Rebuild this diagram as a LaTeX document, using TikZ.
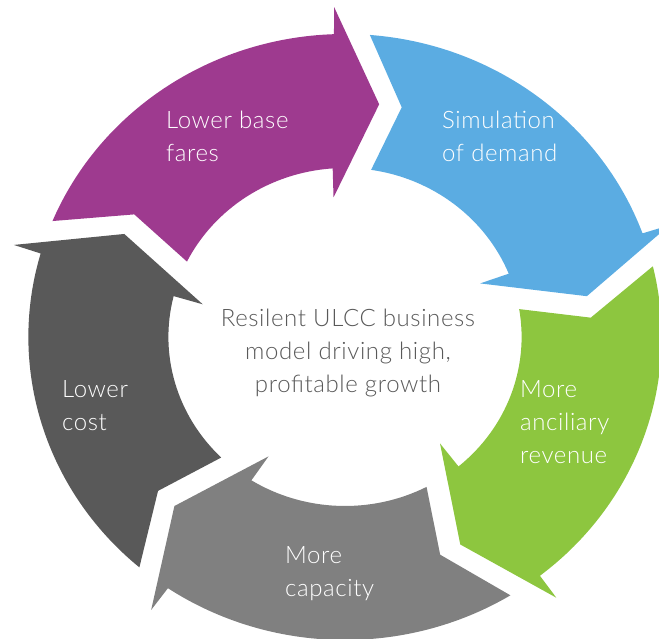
\documentclass[tikz,border=0pt]{standalone}
\usepackage{fontspec}
\setmainfont{Lato Light}[LetterSpace=2.5]

\definecolor{farescol}{RGB}{158,58,143}
\definecolor{demandcol}{RGB}{91,172,226}
\definecolor{revenuecol}{RGB}{141,198,63}
\definecolor{capacitycol}{RGB}{128,128,128}
\definecolor{costcol}{RGB}{89,89,89}
\definecolor{hubcol}{RGB}{89,89,89}

\tikzset{
  arrowtext/.style={text=white, align=left, inner sep=0pt, font=\fontsize{24}{33}\selectfont},
  hubtext/.style={text=hubcol, align=center, inner sep=0pt, font=\fontsize{24}{33}\selectfont}
}

\begin{document}
\begin{tikzpicture}[x=1pt,y=1pt]
  \useasboundingbox (0,0) rectangle (659,639);
  \clip (0,0) rectangle (659,639);
  % five block arrows round the ring, clockwise
  \begin{scope}[shift={(345,302)},xscale=1.045]
    \foreach \h/\c in {93/farescol,21/demandcol,-51/revenuecol,-123/capacitycol,165/costcol}
      \fill[\c,rotate=\h] (64.5:303) arc[start angle=64.5,end angle=-1,radius=303]
        -- (-1.2:330) -- (-11:235) -- (1.5:140) -- (1:169)
        arc[start angle=1,end angle=60.5,radius=169] -- (55.7:236) -- cycle;
  \end{scope}
  \node[arrowtext,anchor=north west] (fares) at (166,528) {Lower base\\fares};
  \node[arrowtext,anchor=north west] (demand) at (442,528) {Simulation\\of demand};
  \node[arrowtext,anchor=north west] (revenue) at (520,259) {More\\anciliary\\revenue};
  \node[arrowtext,anchor=north west] (capacity) at (285,93) {More\\capacity};
  \node[arrowtext,anchor=north west] (cost) at (62,259) {Lower\\cost};
  \node[hubtext,anchor=north] (hub) at (348,330) {Resilent ULCC business\\model driving high,\\profitable growth};
\end{tikzpicture}
\end{document}
